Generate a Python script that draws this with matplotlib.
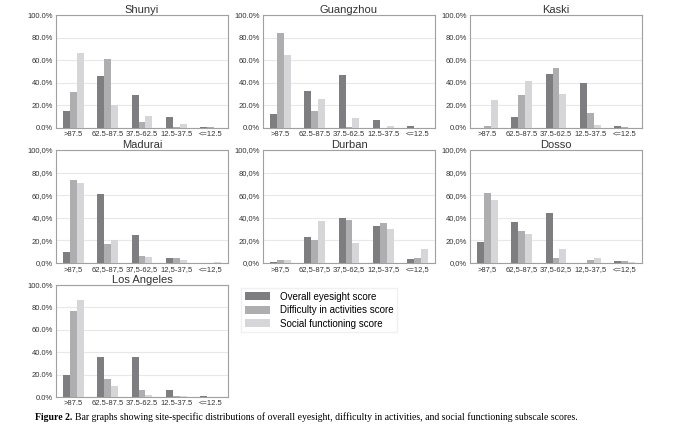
import numpy as np
from matplotlib import pyplot as plt
from matplotlib.ticker import FuncFormatter

plt.rcParams['font.family'] = ['Liberation Sans', 'DejaVu Sans']

categories = ['>87.5', '62.5-87.5', '37.5-62.5', '12.5-37.5', '<=12.5']
series_names = ['Overall eyesight score', 'Difficulty in activities score',
                'Social functioning score']
colors = ['#7e7e80', '#aeaeb1', '#d6d6d8']

sites = ['Shunyi', 'Guangzhou', 'Kaski', 'Madurai', 'Durban', 'Dosso', 'Los Angeles']
# decimal separator used in each panel of the original
separators = ['.', '.', '.', ',', ',', ',', '.']

shunyi = [[15, 46, 29, 10, 1], [32, 61, 5, 1, 0.5], [66, 20, 11, 3.5, 0]]
guangzhou = [[12, 33, 46.5, 7.5, 1.5], [84.5, 15, 0.5, 0, 0], [64.5, 26, 9, 1.5, 0]]
kaski = [[0, 10, 48, 40, 1.5], [2, 29.5, 53.5, 13.5, 0.5], [25, 41.5, 30, 3, 0]]
madurai = [[10, 61, 25, 4, 0], [73.5, 17, 6, 4, 0], [71, 20, 5, 3, 0.5]]
durban = [[1, 23, 40, 33, 3.5], [3, 20, 38, 35.5, 4.5], [3, 37, 18, 30, 12.5]]
dosso = [[19, 36, 44, 0, 1.5], [62, 28, 4.5, 2.5, 1.5], [56, 26, 12, 4, 1]]
los_angeles = [[20, 36, 36, 6.5, 0.5], [77, 16, 6, 1, 0], [87, 10, 1.5, 1, 0]]
site_data = [shunyi, guangzhou, kaski, madurai, durban, dosso, los_angeles]

W, H = 693, 440
fig = plt.figure(figsize=(W / 100, H / 100), dpi=100)

# pixel boxes (left, top, right, bottom) of each panel
lefts = [56, 263, 470]
rows = [(15, 128), (150, 263), (285, 397)]
width = 172

x = np.arange(len(categories))
bw = 0.2
handles = []
for i, (site, data, sep) in enumerate(zip(sites, site_data, separators)):
    r, c = divmod(i, 3)
    top, bottom = rows[r]
    ax = fig.add_axes([lefts[c] / W, 1 - bottom / H, width / W, (bottom - top) / H])
    for k, vals in enumerate(data):
        b = ax.bar(x + (k - 1) * bw, vals, bw, color=colors[k], zorder=3,
                   label=series_names[k])
        if i == 0:
            handles.append(b)
    ax.set_xlim(-0.5, 4.5)
    ax.set_ylim(0, 100)
    ax.set_yticks(np.arange(0, 101, 20))
    ax.yaxis.set_major_formatter(FuncFormatter(
        lambda v, p, s=sep: ('%.1f%%' % v).replace('.', s)))
    ax.set_xticks(x)
    ax.set_xticklabels([lab.replace('.', sep) for lab in categories])
    ax.tick_params(length=0, labelsize=5.5, colors='#333333', pad=2.5)
    ax.tick_params(axis='y', pad=2)
    ax.grid(axis='y', color='#e8e8e8', linewidth=0.8, zorder=0)
    for sp in ax.spines.values():
        sp.set_color('#a0a0a0')
        sp.set_linewidth(0.8)
    ax.set_title(site, fontsize=8, color='#333333', pad=1.5)

fig.legend(handles=handles, labels=series_names, loc='upper left',
           bbox_to_anchor=(236 / W, 1 - 283 / H), fontsize=7,
           frameon=True, edgecolor='#f0f0f0', framealpha=1,
           handlelength=2.6, handleheight=0.9, labelspacing=0.35,
           borderpad=0.4, handletextpad=1.0, fancybox=False)

fig.text(35 / W, 1 - 417 / H, 'Figure 2.', fontsize=7, fontweight='bold',
         family='Liberation Serif', va='center')
fig.text(75 / W, 1 - 417 / H,
         'Bar graphs showing site-specific distributions of overall eyesight, '
         'difficulty in activities, and social functioning subscale scores.',
         fontsize=7, family='Liberation Serif', va='center')

fig.savefig('out.png', dpi=100)
